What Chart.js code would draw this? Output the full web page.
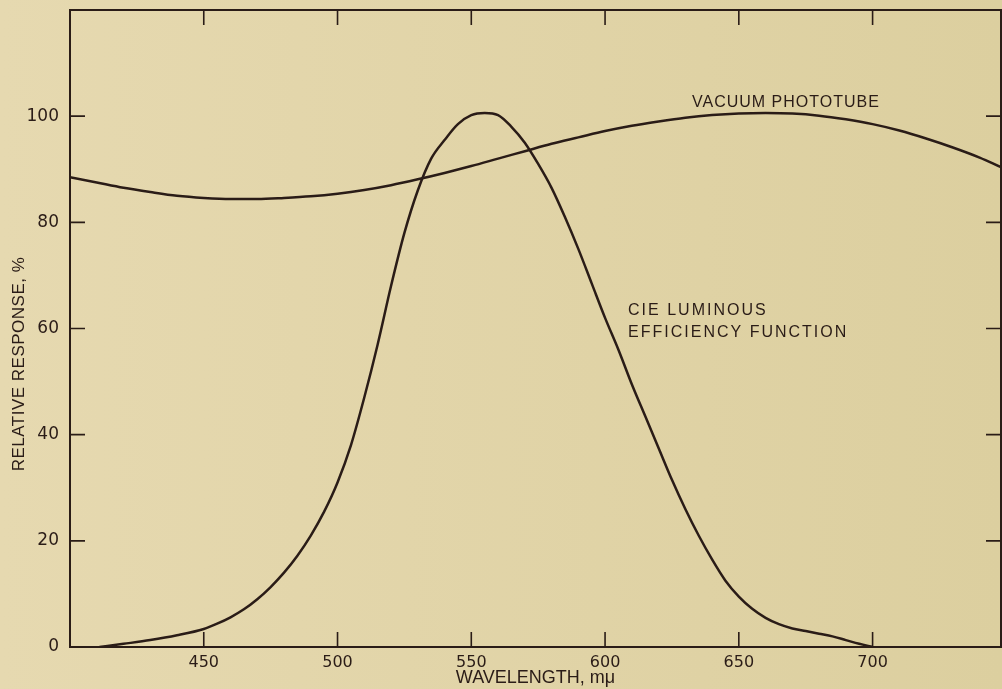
<!DOCTYPE html>
<html>
<head>
<meta charset="utf-8">
<script src="https://cdn.jsdelivr.net/npm/chart.js@4"></script>
<style>
  body { margin: 0; background: linear-gradient(to right, #e6d9b0, #dccf9f); }
  canvas { display: block; }
</style>
</head>
<body>
<canvas id="myChart" width="1002" height="689"></canvas>
<script>
// wavelengths (m\u03bc) and relative response (%)
const tubeWavelengths = [400, 410, 420, 430, 440, 450, 460, 470, 480, 490, 500, 510, 520, 530, 540, 550, 560, 570, 580, 590, 600, 610, 620, 630, 640, 650, 660, 670, 680, 690, 700, 710, 720, 730, 740, 748];
const tubeResponse = [88.5, 87.5, 86.5, 85.7, 85.0, 84.6, 84.4, 84.4, 84.6, 84.9, 85.4, 86.1, 87.0, 88.1, 89.3, 90.6, 92.0, 93.4, 94.8, 96.0, 97.2, 98.2, 99.0, 99.7, 100.2, 100.5, 100.6, 100.5, 100.1, 99.4, 98.5, 97.3, 95.8, 94.1, 92.2, 90.4];

const cieWavelengths = [411, 420, 430, 440, 450, 455, 460, 465, 470, 475, 480, 485, 490, 495, 500, 505, 510, 515, 520, 525, 530, 535, 540, 545, 550, 555, 560, 565, 570, 575, 580, 585, 590, 595, 600, 605, 610, 615, 620, 625, 630, 635, 640, 645, 650, 655, 660, 665, 670, 675, 680, 685, 690, 695, 700];
const cieResponse = [0, 0.6, 1.3, 2.2, 3.4, 4.4, 5.6, 7.1, 9.0, 11.3, 14.0, 17.2, 21, 25.5, 31, 38, 47, 57, 68, 78, 86, 92, 95.5, 98.5, 100.2, 100.6, 100.2, 98, 95, 91, 86.5, 81, 75, 68.5, 62, 56, 49.5, 43.5, 37.5, 31.5, 26, 21, 16.5, 12.5, 9.5, 7.2, 5.5, 4.3, 3.5, 3.0, 2.5, 2.0, 1.3, 0.6, 0];

const xTicks = [450, 500, 550, 600, 650, 700];
const yTicks = [0, 20, 40, 60, 80, 100];

const ink = '#2a1c17';
const font = 'Liberation Sans, Arial, sans-serif';
const tickFont = 'DejaVu Sans, sans-serif';

const toPoints = (xs, ys) => xs.map((x, i) => ({ x: x, y: ys[i] }));

// frame with inward ticks on all four sides, y title and the curve labels
const framePlugin = {
    id: 'frame',
    afterDraw(chart) {
        const { ctx, chartArea: a, scales } = chart;
        const len = 15;
        ctx.save();
        ctx.strokeStyle = ink;
        ctx.lineWidth = 2;
        ctx.strokeRect(a.left, a.top, a.right - a.left, a.bottom - a.top);
        ctx.lineWidth = 1.6;
        ctx.beginPath();
        xTicks.forEach(v => {
            const px = scales.x.getPixelForValue(v);
            ctx.moveTo(px, a.top); ctx.lineTo(px, a.top + len);
            ctx.moveTo(px, a.bottom); ctx.lineTo(px, a.bottom - len);
        });
        yTicks.forEach(v => {
            const py = scales.y.getPixelForValue(v);
            ctx.moveTo(a.left, py); ctx.lineTo(a.left + len, py);
            ctx.moveTo(a.right, py); ctx.lineTo(a.right - len, py);
        });
        ctx.stroke();

        ctx.fillStyle = ink;
        ctx.textBaseline = 'alphabetic';
        ctx.font = '16px ' + font;
        ctx.letterSpacing = '1px';
        ctx.fillText('VACUUM PHOTOTUBE', scales.x.getPixelForValue(632.5), scales.y.getPixelForValue(101.8));
        ctx.letterSpacing = '2px';
        ctx.fillText('CIE LUMINOUS', scales.x.getPixelForValue(608.6), scales.y.getPixelForValue(62.5));
        ctx.fillText('EFFICIENCY FUNCTION', scales.x.getPixelForValue(608.6), scales.y.getPixelForValue(58.4));

        // y axis title sits a little below the middle in the original
        ctx.letterSpacing = '0.5px';
        ctx.font = '17px ' + font;
        ctx.textAlign = 'center';
        ctx.textBaseline = 'middle';
        ctx.translate(19, 364);
        ctx.rotate(-Math.PI / 2);
        ctx.fillText('RELATIVE RESPONSE, %', 0, 0);
        ctx.restore();
    }
};

const ctx = document.getElementById('myChart').getContext('2d');

new Chart(ctx, {
    type: 'line',
    data: {
        datasets: [{
            label: 'Vacuum phototube',
            data: toPoints(tubeWavelengths, tubeResponse),
            borderColor: ink,
            borderWidth: 2.5,
            pointRadius: 0,
            cubicInterpolationMode: 'monotone'
        }, {
            label: 'CIE luminous efficiency function',
            data: toPoints(cieWavelengths, cieResponse),
            borderColor: ink,
            borderWidth: 2.5,
            pointRadius: 0,
            cubicInterpolationMode: 'monotone'
        }]
    },
    options: {
        responsive: false,
        animation: false,
        layout: { padding: { top: 10, right: 1, left: 0, bottom: 0 } },
        plugins: {
            legend: { display: false },
            tooltip: { enabled: false }
        },
        scales: {
            x: {
                type: 'linear',
                min: 400,
                max: 748,
                afterBuildTicks: scale => { scale.ticks = xTicks.map(v => ({ value: v })); },
                afterFit: scale => {
                    scale.height = 42;
                    scale.paddingLeft = 0;
                    scale.paddingRight = 0;
                },
                grid: { display: false, drawTicks: false },
                border: { display: false },
                ticks: { color: ink, padding: 6, font: { family: tickFont, size: 16 } },
                title: {
                    display: true,
                    text: 'WAVELENGTH, m\u03bc',
                    color: ink,
                    padding: 0,
                    font: { family: font, size: 18 }
                }
            },
            y: {
                min: 0,
                max: 120,
                afterBuildTicks: scale => { scale.ticks = yTicks.map(v => ({ value: v })); },
                afterFit: scale => {
                    scale.width = 70;
                    scale.paddingTop = 0;
                    scale.paddingBottom = 0;
                },
                grid: { display: false, drawTicks: false },
                border: { display: false },
                ticks: { color: ink, padding: 11, font: { family: tickFont, size: 17 } },
                title: { display: false }
            }
        }
    },
    plugins: [framePlugin]
});
</script>
</body>
</html>
